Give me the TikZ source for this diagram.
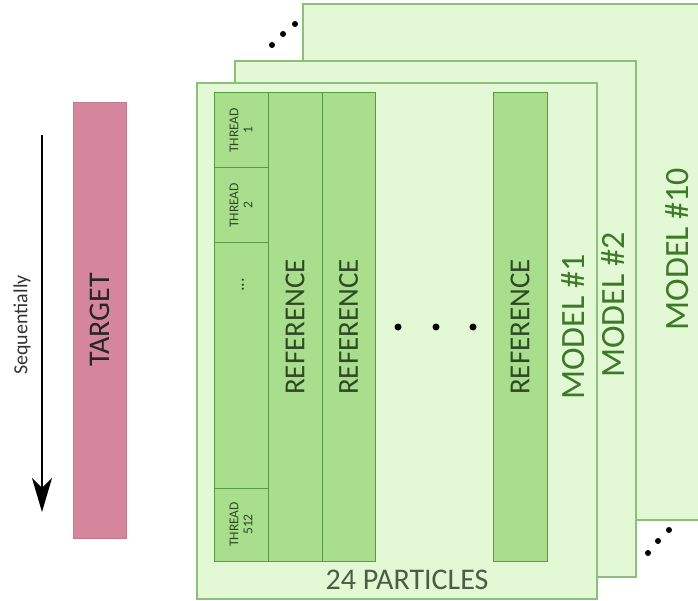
\documentclass[tikz,border=0pt]{standalone}
\usepackage{fontspec}
\setmainfont{Carlito}
\usetikzlibrary{arrows.meta}
\definecolor{framefill}{HTML}{E3F8D5}
\definecolor{frameline}{HTML}{8CBF7B}
\definecolor{colfill}{HTML}{A9DE8C}
\definecolor{colline}{HTML}{5A9A45}
\definecolor{reftext}{HTML}{2E4A25}
\definecolor{modeltext}{HTML}{3C7A26}
\definecolor{targetfill}{HTML}{D5869C}
\definecolor{parttext}{HTML}{4A5E45}
\tikzset{
  frame/.style={draw=frameline, fill=framefill, line width=1.2pt, inner sep=0pt},
  colbox/.style={draw=colline, fill=colfill, line width=1pt, inner sep=0pt},
  reflabel/.style={rotate=90, inner sep=0pt, text=reftext, font=\fontsize{29}{31}\selectfont},
  modellabel/.style={rotate=90, inner sep=0pt, text=modeltext, font=\fontsize{34}{36}\selectfont},
  threadlabel/.style={rotate=90, inner sep=0pt, align=center, text=reftext, font=\fontsize{13.5}{14}\selectfont},
  dot/.style={circle, fill=black, inner sep=0pt, minimum size=6pt},
}
\begin{document}
\begin{tikzpicture}[x=1pt, y=-1pt]
\useasboundingbox (0,0) rectangle (698,601);
% frames
\begin{scope}
\clip (0,0) rectangle (698,601);
\draw[frame] (303,4) rectangle (710,520);
\end{scope}
\node[modellabel] (m10) at (677,249) {MODEL \#10};
\draw[frame] (235,61) rectangle (636,577);
\node[modellabel] (m2) at (613,305) {MODEL \#2};
\draw[frame] (197,83) rectangle (597,599);
\node[modellabel] (m1) at (573,327) {MODEL \#1};
% thread column
\draw[colbox] (214,93) rectangle (268,168);
\draw[colbox] (214,168) rectangle (268,243);
\draw[colbox] (214,243) rectangle (268,488);
\draw[colbox] (214,488) rectangle (268,561);
\node[threadlabel] (t1) at (241,130.5) {THREAD\\1};
\node[threadlabel] (t2) at (241,205.5) {THREAD\\2};
\node[rotate=90, text=reftext, font=\fontsize{18}{18}\selectfont] (tdots) at (243,285) {...};
\node[threadlabel] (t512) at (241,524.5) {THREAD\\512};
% reference columns
\draw[colbox] (268,93) rectangle (322,561);
\node[reflabel] (r1) at (295,327) {REFERENCE};
\draw[colbox] (322,93) rectangle (375,561);
\node[reflabel] (r2) at (348.5,327) {REFERENCE};
\draw[colbox] (493,93) rectangle (547,561);
\node[reflabel] (r3) at (520,327) {REFERENCE};
% middle dots
\node[dot, minimum size=7pt] (d1) at (398,327) {};
\node[dot, minimum size=7pt] (d2) at (436,327) {};
\node[dot, minimum size=7pt] (d3) at (473,327) {};
\node[text=parttext, font=\fontsize{30}{32}\selectfont] (part) at (407,580) {24 PARTICLES};
% stack dots
\node[dot] (s1) at (272,45) {};
\node[dot] (s2) at (283,34) {};
\node[dot] (s3) at (295,24) {};
\node[dot] (e1) at (648,553) {};
\node[dot] (e2) at (658,541) {};
\node[dot] (e3) at (669,530) {};
% target
\node[fill=targetfill, draw=targetfill!90!black, minimum width=53pt, minimum height=436pt, inner sep=0pt] (target) at (99.5,320) {};
\node[rotate=90, inner sep=0pt, text=black!85, font=\fontsize{30}{32}\selectfont] (tl) at (99.5,320) {TARGET};
% arrow
\coordinate (a0) at (42,135);
\coordinate (a1) at (42,512);
\draw[line width=1.8pt, -{Stealth[length=34pt, width=20pt, inset=10pt]}] (a0) -- (a1);
\node[rotate=90, inner sep=0pt, font=\fontsize{20}{21}\selectfont, text=black!80] (seq) at (22,325) {Sequentially};
\end{tikzpicture}
\end{document}
